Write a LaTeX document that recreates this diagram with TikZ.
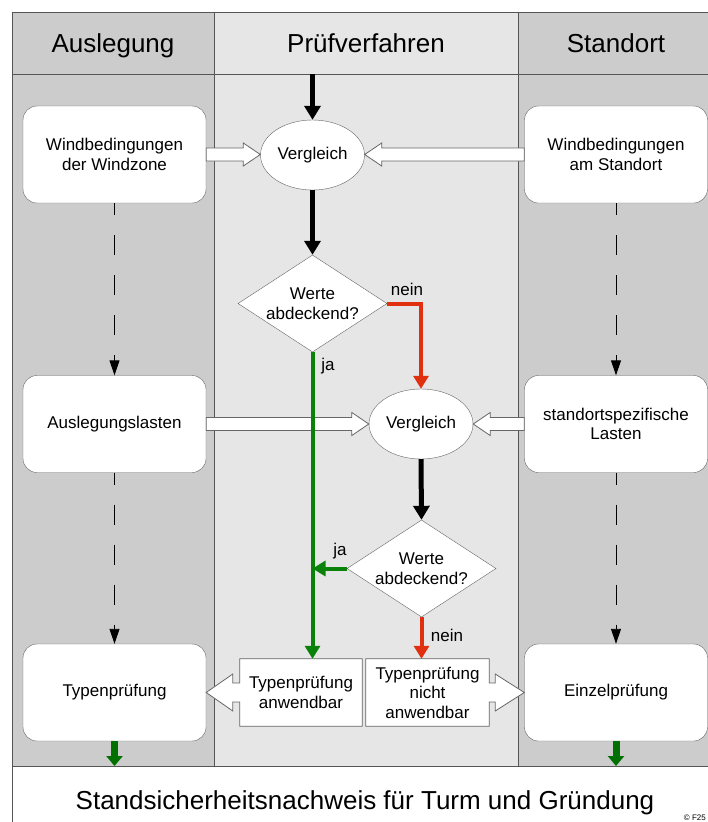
\documentclass[tikz,border=0pt]{standalone}
\usepackage{fontspec}
\setmainfont{Liberation Sans}
\usetikzlibrary{arrows.meta,shapes.geometric,calc}
\definecolor{colside}{HTML}{CCCCCC}
\definecolor{colmid}{HTML}{E6E6E6}
\definecolor{framecol}{HTML}{555555}
\definecolor{boxcol}{HTML}{666666}
\definecolor{okgreen}{HTML}{0A820A}
\definecolor{nored}{HTML}{E03010}
\definecolor{dkgreen}{HTML}{007000}
\newcommand\hollowarr[3]{%
  \draw[hollowline] let \p1=(#1), \p2=(#2) in
   (\x1,{\y1+6.5pt}) -- ({\x2-(#3)*17pt},{\y1+6.5pt}) -- ({\x2-(#3)*17pt},{\y1+11.5pt})
   -- (\x2,\y1) -- ({\x2-(#3)*17pt},{\y1-11.5pt}) -- ({\x2-(#3)*17pt},{\y1-6.5pt})
   -- (\x1,{\y1-6.5pt}) -- cycle;}
\begin{document}
\begin{tikzpicture}[x=1pt,y=-1pt,
  font=\fontsize{17}{19.5}\selectfont,
  frameline/.style={draw=framecol, line width=1pt},
  rbox/.style={draw=boxcol, fill=white, rounded corners=14pt, minimum width=183pt,
    minimum height=97pt, align=center, inner sep=2pt},
  ebox/.style={ellipse, draw=boxcol, fill=white, minimum width=104pt,
    minimum height=70pt, inner sep=0pt},
  dbox/.style={diamond, draw=boxcol, fill=white, aspect=1.54, minimum width=149pt,
    minimum height=97pt, inner sep=0pt, align=center},
  tbox/.style={minimum height=67pt, inner sep=0pt, align=center},
  hollowline/.style={draw=boxcol, fill=white, line width=0.8pt},
  blackarr/.style={line width=5pt, -{Triangle[length=14pt,width=16pt]}},
  greenarr/.style={okgreen, line width=4pt, -{Triangle[length=13pt,width=15pt]}},
  redarr/.style={nored, line width=4pt, -{Triangle[length=13pt,width=15pt]}},
  dasharr/.style={line width=0.9pt, dash pattern=on 20pt off 20pt, dash phase=8pt,
    -{Triangle[length=15pt,width=10pt]}},
  outarr/.style={draw=dkgreen!70!black, line width=7pt, dkgreen,
    -{Triangle[length=10pt,width=16pt]}},
  headtxt/.style={font=\fontsize{26}{30}\selectfont, anchor=base},
  lbl/.style={font=\fontsize{17}{19.5}\selectfont, inner sep=0pt}]
\useasboundingbox (0,0) rectangle (707,822);
% lanes
\fill[colside] (12,12) rectangle (214.5,766);
\fill[colmid] (214.5,12) rectangle (518,766);
\fill[colside] (518,12) rectangle (730,766);
\fill[white] (12,766) rectangle (730,822);
\draw[frameline] (12,12) -- (730,12);
\draw[frameline] (12,74) -- (730,74);
\draw[frameline] (12,766) -- (730,766);
\draw[frameline] (12,12) -- (12,830);
\draw[frameline] (214.5,12) -- (214.5,766);
\draw[frameline] (518,12) -- (518,766);
% headers
\node[headtxt] (h1) at (113,52) {Auslegung};
\node[headtxt] (h2) at (366,52) {Prüfverfahren};
\node[headtxt] (h3) at (616,52) {Standort};
\node[headtxt] (foot) at (365,809) {Standsicherheitsnachweis für Turm und Gründung};
\node[font=\fontsize{8}{10}\selectfont, anchor=south east, inner sep=0pt] (copy) at (706,821) {© F25};
\coordinate (topin) at (312.5,74);
\coordinate (lbot) at (114.5,766);
\coordinate (rbot) at (616,766);
% nodes
\node[rbox] (L1) at (114.5,154.5) {Windbedingungen\\der Windzone};
\node[rbox] (R1) at (616,154.5) {Windbedingungen\\am Standort};
\node[rbox] (L2) at (114.5,424) {Auslegungslasten};
\node[rbox] (R2) at (616,424) {standortspezifische\\Lasten};
\node[rbox] (L3) at (114.5,692.5) {Typenprüfung};
\node[rbox] (R3) at (616,692.5) {Einzelprüfung};
\node[ebox] (E1) at (312.5,155) {Vergleich};
\node[ebox] (E2) at (421,424) {Vergleich};
\node[dbox] (D1) at (312.5,303.5) {Werte\\abdeckend?};
\node[dbox] (D2) at (421.5,568.5) {Werte\\abdeckend?};
% block arrow boxes
\node[tbox, minimum width=122pt] (TA) at (301,692.5) {};
\node[tbox, minimum width=123pt] (TN) at (427.5,692.5) {};
\draw[hollowline] (TA.north west) -- (TA.north east) -- (TA.south east) -- (TA.south west)
  -- ([yshift=-9.5pt]TA.west) -- ([yshift=-9.5pt,xshift=-7pt]TA.west)
  -- ([yshift=-18.5pt,xshift=-7pt]TA.west) -- (L3.east)
  -- ([yshift=18.5pt,xshift=-7pt]TA.west) -- ([yshift=9.5pt,xshift=-7pt]TA.west)
  -- ([yshift=9.5pt]TA.west) -- cycle;
\draw[hollowline] (TN.north east) -- (TN.north west) -- (TN.south west) -- (TN.south east)
  -- ([yshift=-9.5pt]TN.east) -- ([yshift=-9.5pt,xshift=6pt]TN.east)
  -- ([yshift=-18.5pt,xshift=6pt]TN.east) -- (R3.west)
  -- ([yshift=18.5pt,xshift=6pt]TN.east) -- ([yshift=9.5pt,xshift=6pt]TN.east)
  -- ([yshift=9.5pt]TN.east) -- cycle;
\node[align=center, inner sep=0pt] at (TA) {Typenprüfung\\anwendbar};
\node[align=center, inner sep=0pt] at (TN) {Typenprüfung\\nicht\\anwendbar};
% hollow arrows
\hollowarr{L1.east}{E1.west}{1}
\hollowarr{R1.west}{E1.east}{-1}
\hollowarr{L2.east}{E2.west}{1}
\hollowarr{R2.west}{E2.east}{-1}
% black flow
\draw[blackarr] (topin) -- (E1.north);
\draw[blackarr] (E1.south) -- (D1.north);
\draw[blackarr] (E2.south) -- (D2.north);
% decisions
\draw[redarr] (D1.east) -- (D1.east -| E2.north) -- (E2.north);
\draw[greenarr] (D1.south) -- (D1.south |- TA.north);
\draw[greenarr] (D2.west) -- (D1.south |- D2.west);
\draw[redarr] (D2.south) -- (D2.south |- TN.north);
\node[lbl] (n1) at (407,289) {nein};
\node[lbl] (j1) at (328,366) {ja};
\node[lbl] (j2) at (340,551) {ja};
\node[lbl] (n2) at (447,635) {nein};
% dashed
\draw[dasharr] (L1.south) -- (L2.north);
\draw[dasharr] (L2.south) -- (L3.north);
\draw[dasharr] (R1.south) -- (R2.north);
\draw[dasharr] (R2.south) -- (R3.north);
% outputs
\draw[outarr] (L3.south) -- (lbot);
\draw[outarr] (R3.south) -- (rbot);
\end{tikzpicture}
\end{document}
